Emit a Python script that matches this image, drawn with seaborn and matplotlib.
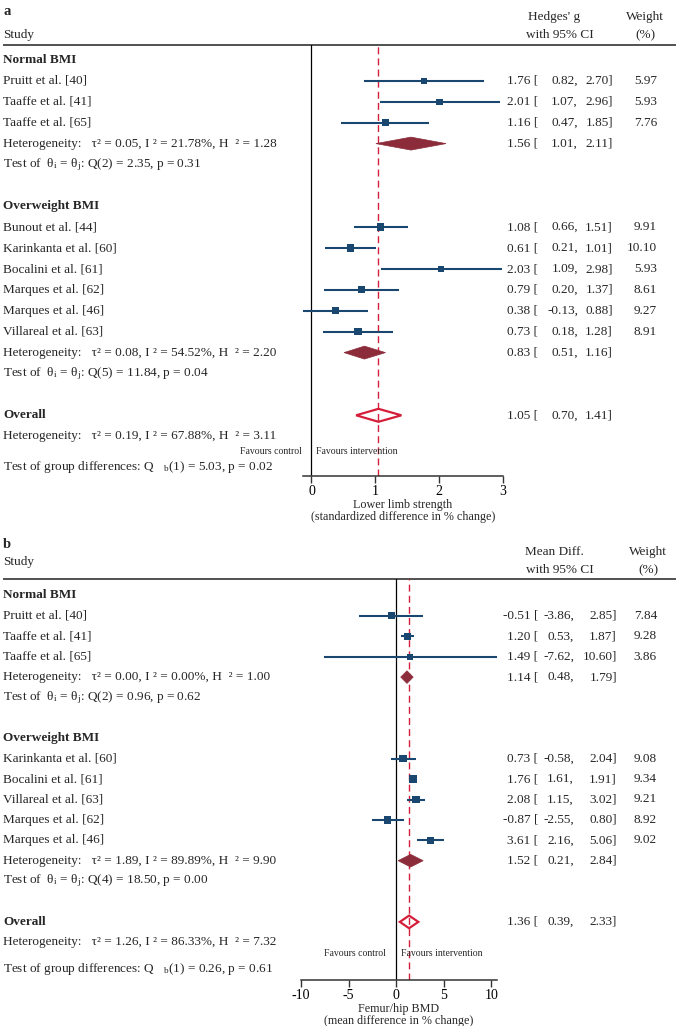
import matplotlib
matplotlib.use("Agg")
import matplotlib.pyplot as plt
import matplotlib.transforms as mtransforms
from matplotlib.patches import Polygon
import seaborn as sns
import pandas as pd

# ---- panel a: lower limb strength (Hedges' g) ----
a_normal_study = ["Pruitt et al. [40]", "Taaffe et al. [41]", "Taaffe et al. [65]"]
a_normal_es = [1.76, 2.01, 1.16]
a_normal_lo = [0.82, 1.07, 0.47]
a_normal_hi = [2.70, 2.96, 1.85]
a_normal_w = [5.97, 5.93, 7.76]
a_normal_pool = [1.56, 1.01, 2.11]
a_normal_het = ["0.05", "21.78", "1.28"]
a_normal_q = ["2", "2.35", "0.31"]

a_over_study = ["Bunout et al. [44]", "Karinkanta et al. [60]", "Bocalini et al. [61]",
                "Marques et al. [62]", "Marques et al. [46]", "Villareal et al. [63]"]
a_over_es = [1.08, 0.61, 2.03, 0.79, 0.38, 0.73]
a_over_lo = [0.66, 0.21, 1.09, 0.20, -0.13, 0.18]
a_over_hi = [1.51, 1.01, 2.98, 1.37, 0.88, 1.28]
a_over_w = [9.91, 10.10, 5.93, 8.61, 9.27, 8.91]
a_over_pool = [0.83, 0.51, 1.16]
a_over_het = ["0.08", "54.52", "2.20"]
a_over_q = ["5", "11.84", "0.04"]

a_overall = [1.05, 0.70, 1.41]
a_overall_het = ["0.19", "67.88", "3.11"]
a_group_test = ["5.03", "0.02"]
a_ticks = [0, 1, 2, 3]

# ---- panel b: femur/hip BMD (mean difference) ----
b_normal_study = ["Pruitt et al. [40]", "Taaffe et al. [41]", "Taaffe et al. [65]"]
b_normal_es = [-0.51, 1.20, 1.49]
b_normal_lo = [-3.86, 0.53, -7.62]
b_normal_hi = [2.85, 1.87, 10.60]
b_normal_w = [7.84, 9.28, 3.86]
b_normal_pool = [1.14, 0.48, 1.79]
b_normal_het = ["0.00", "0.00", "1.00"]
b_normal_q = ["2", "0.96", "0.62"]

b_over_study = ["Karinkanta et al. [60]", "Bocalini et al. [61]", "Villareal et al. [63]",
                "Marques et al. [62]", "Marques et al. [46]"]
b_over_es = [0.73, 1.76, 2.08, -0.87, 3.61]
b_over_lo = [-0.58, 1.61, 1.15, -2.55, 2.16]
b_over_hi = [2.04, 1.91, 3.02, 0.80, 5.06]
b_over_w = [9.08, 9.34, 9.21, 8.92, 9.02]
b_over_pool = [1.52, 0.21, 2.84]
b_over_het = ["1.89", "89.89", "9.90"]
b_over_q = ["4", "18.50", "0.00"]

b_overall = [1.36, 0.39, 2.33]
b_overall_het = ["1.26", "86.33", "7.32"]
b_group_test = ["0.26", "0.61"]
b_ticks = [-10, -5, 0, 5, 10]

NAVY = "#1a476f"
MAROON = "#8c2c3b"
RED = "#d51f3a"
W, H = 676, 1026
FS = 9.5

sns.set_style("white")
plt.rcParams["font.family"] = ["Liberation Serif", "DejaVu Serif"]
plt.rcParams["mathtext.fontset"] = "stix"
plt.rcParams["axes.unicode_minus"] = False

fig = plt.figure(figsize=(W / 100, H / 100), dpi=100)


def het_text(h):
    return f"Heterogeneity:   τ² = {h[0]}, I ² = {h[1]}%, H  ² = {h[2]}"


def q_text(q):
    return (f"Test of  θ$_\\mathregular{{i}}$ = θ$_\\mathregular{{j}}$: "
            f"Q({q[0]}) = {q[1]}, p = {q[2]}")


def draw_panel(lay, letter, head, xlabel, xlim, ticks, groups, overall, overall_het, group_test):
    row0, step = lay["row0"], lay["step"]
    to_row = lambda y: (y - row0) / step
    ax = fig.add_axes([lay["x0"] / W, 1 - lay["bottom"] / H,
                       (lay["x1"] - lay["x0"]) / W, (lay["bottom"] - lay["top"]) / H])
    tr = mtransforms.blended_transform_factory(fig.transFigure, ax.transData)

    def put(xpx, row, s, ha="left", fs=FS, **kw):
        ax.text(xpx / W, row, s, transform=tr, ha=ha, va="center", fontsize=fs,
                clip_on=False, **kw)

    def numbers(row, es, lo, hi, w=None):
        put(lay["c_es"], row, f"{es:.2f} [", ha="right")
        put(lay["c_lo"], row, f"{lo:.2f},", ha="right")
        put(lay["c_hi"], row, f"{hi:.2f}]", ha="right")
        if w is not None:
            put(lay["c_w"], row, f"{w:.2f}", ha="right")

    def diamond(row, es, lo, hi, hollow=False):
        h = 0.31
        pts = [(lo, row), (es, row - h), (hi, row), (es, row + h)]
        if hollow:
            p = Polygon(pts, closed=True, facecolor="none", edgecolor=RED, lw=1.6, zorder=4)
        else:
            p = Polygon(pts, closed=True, facecolor=MAROON, edgecolor=MAROON, lw=0.5, zorder=4)
        ax.add_patch(p)

    # header
    put(3, to_row(lay["y_letter"]), letter, fs=10.5, fontweight="bold")
    put(3, to_row(lay["y_study"]), "Study")
    put(lay["h_es"], to_row(lay["y_h1"]), head, ha="center")
    put(lay["h_es"] + 6, to_row(lay["y_h2"]), "with 95% CI", ha="center")
    put(lay["h_w"], to_row(lay["y_h1"]), "Weight", ha="center")
    put(lay["h_w"], to_row(lay["y_h2"]), "(%)", ha="center")
    ax.plot([3 / W, 1], [to_row(lay["top"])] * 2, transform=tr, color="#333333",
            lw=1.2, clip_on=False, solid_capstyle="butt")

    # rows
    frames = []
    row = 0
    for name, study, es, lo, hi, w, pool, het, q in groups:
        put(3, row, name, fontweight="bold")
        rows = list(range(row + 1, row + 1 + len(study)))
        for r, s, e, l, u, ww in zip(rows, study, es, lo, hi, w):
            put(3, r, s)
            numbers(r, e, l, u, ww)
        frames.append(pd.DataFrame({"es": es, "lo": lo, "hi": hi, "w": w, "row": rows}))
        row = rows[-1] + 1
        put(3, row, het_text(het))
        diamond(row, *pool)
        numbers(row, *pool)
        put(3, row + 1, q_text(q))
        row += 3
    df = pd.concat(frames, ignore_index=True)

    ax.hlines(df["row"], df["lo"], df["hi"], color=NAVY, lw=1.5, zorder=3)
    sns.scatterplot(data=df, x="es", y="row", size="w", sizes=(9.5, 29.5), size_norm=(0, 10.1),
                    marker="s", color=NAVY, linewidth=0, legend=False, ax=ax, zorder=5)

    put(3, row, "Overall", fontweight="bold")
    diamond(row, *overall, hollow=True)
    numbers(row, *overall)
    put(3, row + 1, het_text(overall_het))
    put(3, to_row(lay["y_gtest"]),
        f"Test of group differences: Q   $_\\mathregular{{b}}$(1) = {group_test[0]}, p = {group_test[1]}")
    fav = to_row(lay["y_fav"])
    ax.annotate("Favours control", xy=(0, fav), xytext=(-7, 0), textcoords="offset points",
                ha="right", va="center", fontsize=7)
    ax.annotate("Favours intervention", xy=(0, fav), xytext=(3.5, 0), textcoords="offset points",
                ha="left", va="center", fontsize=7)

    ax.axvline(0, color="black", lw=0.9, zorder=2)
    ax.axvline(overall[0], color=RED, lw=1.0, ls=(0, (5, 3)), zorder=2)

    ax.set_xlim(xlim)
    ax.set_ylim(to_row(lay["bottom"]), to_row(lay["top"]))
    ax.set_xticks(ticks)
    ax.set_yticks([])
    ax.set_ylabel("")
    ax.set_xlabel(xlabel, fontsize=8.7, labelpad=1, linespacing=0.95)
    for side in ["top", "left", "right"]:
        ax.spines[side].set_visible(False)
    ax.spines["bottom"].set_color("#333333")
    ax.spines["bottom"].set_linewidth(1.1)
    ax.tick_params(axis="x", direction="out", length=5, width=1, pad=1.5,
                   labelsize=10, colors="#333333", labelcolor="black", bottom=True)
    ax.patch.set_alpha(0)
    return ax


lay_a = dict(top=45, bottom=476, row0=60, step=20.9, x0=303.2, x1=502.8,
             y_letter=12, y_study=35, y_h1=17, y_h2=35, y_fav=452, y_gtest=467,
             h_es=554, h_w=645, c_es=538, c_lo=578, c_hi=613, c_w=657)
lay_b = dict(top=579, bottom=980, row0=595.5, step=20.4, x0=301, x1=497,
             y_letter=545, y_study=562, y_h1=552, y_h2=570, y_fav=953, y_gtest=969,
             h_es=554, h_w=648, c_es=538, c_lo=574, c_hi=617, c_w=657)

draw_panel(lay_a, "a", "Hedges' g",
           "Lower limb strength\n(standardized difference in % change)", (-0.13, 3.0), a_ticks,
           [("Normal BMI", a_normal_study, a_normal_es, a_normal_lo, a_normal_hi, a_normal_w,
             a_normal_pool, a_normal_het, a_normal_q),
            ("Overweight BMI", a_over_study, a_over_es, a_over_lo, a_over_hi, a_over_w,
             a_over_pool, a_over_het, a_over_q)],
           a_overall, a_overall_het, a_group_test)

draw_panel(lay_b, "b", "Mean Diff.",
           "Femur/hip BMD\n(mean difference in % change)", (-10, 10.6), b_ticks,
           [("Normal BMI", b_normal_study, b_normal_es, b_normal_lo, b_normal_hi, b_normal_w,
             b_normal_pool, b_normal_het, b_normal_q),
            ("Overweight BMI", b_over_study, b_over_es, b_over_lo, b_over_hi, b_over_w,
             b_over_pool, b_over_het, b_over_q)],
           b_overall, b_overall_het, b_group_test)

fig.savefig("out.png", dpi=100, facecolor="white")
